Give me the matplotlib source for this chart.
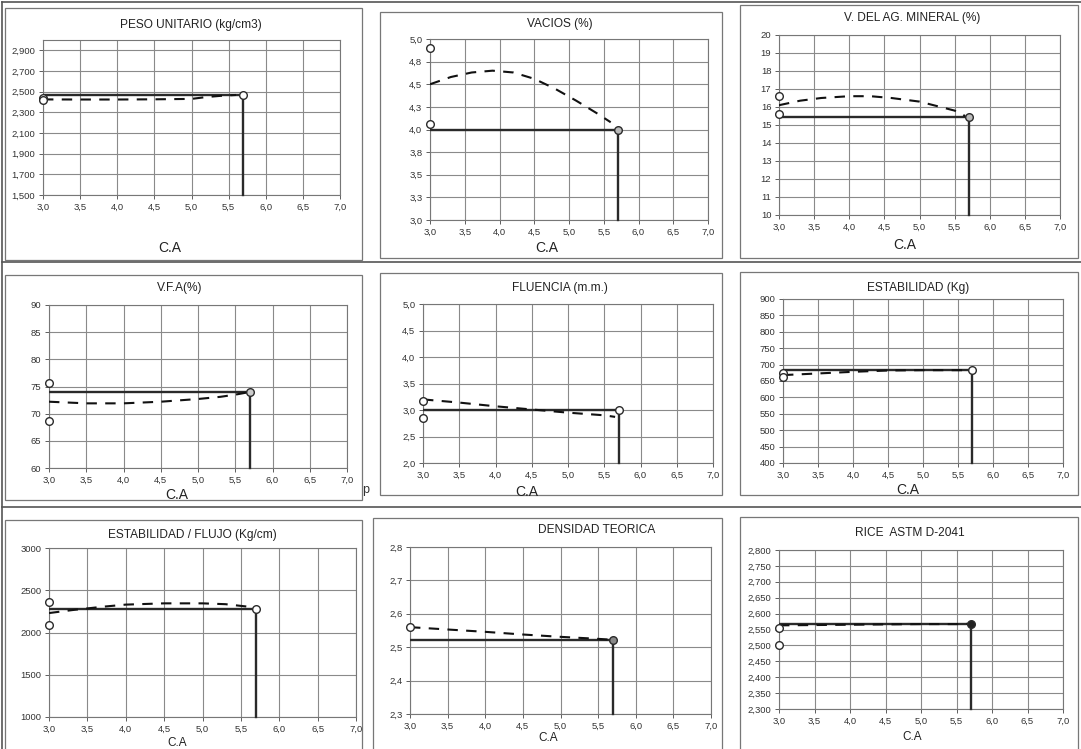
import matplotlib
matplotlib.use("Agg")
import matplotlib.pyplot as plt
from matplotlib.patches import Rectangle
from matplotlib.lines import Line2D

plt.rcParams['font.family'] = ['Liberation Sans', 'DejaVu Sans']

W, H = 1081, 749

# ---------------- data ----------------
ca_ticks = [3.0, 3.5, 4.0, 4.5, 5.0, 5.5, 6.0, 6.5, 7.0]
ca_optimo = 5.7
ca_trial = 3.0

titles = ["PESO UNITARIO (kg/cm3)", "VACIOS (%)", "V. DEL AG. MINERAL (%)",
          "V.F.A(%)", "FLUENCIA (m.m.)", "ESTABILIDAD (Kg)",
          "ESTABILIDAD / FLUJO (Kg/cm)", "DENSIDAD TEORICA", "RICE  ASTM D-2041"]

# y-axis ticks / labels
peso_yticks = [1500, 1700, 1900, 2100, 2300, 2500, 2700, 2900]
peso_ylabels = ["1,500", "1,700", "1,900", "2,100", "2,300", "2,500", "2,700", "2,900"]
vacios_yticks = [3.0, 3.25, 3.5, 3.75, 4.0, 4.25, 4.5, 4.75, 5.0]
vacios_ylabels = ["3,0", "3,3", "3,5", "3,8", "4,0", "4,3", "4,5", "4,8", "5,0"]
vma_yticks = [10, 11, 12, 13, 14, 15, 16, 17, 18, 19, 20]
vfa_yticks = [60, 65, 70, 75, 80, 85, 90]
flu_yticks = [2.0, 2.5, 3.0, 3.5, 4.0, 4.5, 5.0]
est_yticks = [400, 450, 500, 550, 600, 650, 700, 750, 800, 850, 900]
ef_yticks = [1000, 1500, 2000, 2500, 3000]
dens_yticks = [2.3, 2.4, 2.5, 2.6, 2.7, 2.8]
rice_yticks = [2300, 2350, 2400, 2450, 2500, 2550, 2600, 2650, 2700, 2750, 2800]
rice_ylabels = ["2,300", "2,350", "2,400", "2,450", "2,500", "2,550", "2,600",
                "2,650", "2,700", "2,750", "2,800"]

# measured points at C.A = 3.0
peso_pts = [2440, 2415]
vacios_pts = [4.9, 4.06]
vma_pts = [16.6, 15.6]
vfa_pts = [75.6, 68.6]
flu_pts = [3.17, 2.85]
est_pts = [675, 662]
ef_pts = [2357, 2085]
dens_pts = [2.56]
rice_pts = [2555, 2502]

# value at the optimum C.A
peso_opt = 2470
vacios_opt = 4.0
vma_opt = 15.45
vfa_opt = 74.0
flu_opt = 3.0
est_opt = 683
ef_opt = 2280
dens_opt = 2.522
rice_opt = 2568

# dashed trend curves
peso_cx = [3.0, 3.5, 4.0, 4.5, 5.0, 5.2, 5.4, 5.6]
peso_cy = [2425, 2424, 2424, 2426, 2430, 2448, 2460, 2468]
vacios_cx = [3.0, 3.3, 3.6, 3.9, 4.2, 4.5, 4.8, 5.1, 5.4, 5.6]
vacios_cy = [4.5, 4.58, 4.63, 4.65, 4.63, 4.56, 4.45, 4.32, 4.18, 4.08]
vma_cx = [3.0, 3.3, 3.6, 4.0, 4.3, 4.6, 5.0, 5.3, 5.5, 5.65]
vma_cy = [16.1, 16.35, 16.5, 16.6, 16.6, 16.5, 16.3, 16.0, 15.8, 15.5]
vfa_cx = [3.0, 3.5, 4.0, 4.5, 5.0, 5.3, 5.5, 5.7]
vfa_cy = [72.2, 71.9, 71.9, 72.2, 72.7, 73.1, 73.5, 74.0]
flu_cx = [3.0, 3.5, 4.0, 4.5, 5.0, 5.5, 5.65]
flu_cy = [3.2, 3.14, 3.07, 3.01, 2.95, 2.9, 2.87]
est_cx = [3.0, 3.5, 4.0, 4.5, 5.0, 5.5, 5.7]
est_cy = [668, 673, 678, 682, 683, 683, 683]
ef_cx = [3.0, 3.3, 3.7, 4.0, 4.5, 5.0, 5.3, 5.6, 5.7]
ef_cy = [2230, 2265, 2305, 2330, 2345, 2345, 2335, 2305, 2280]
dens_cx = [3.0, 3.5, 4.0, 4.5, 5.0, 5.5, 5.7]
dens_cy = [2.56, 2.553, 2.546, 2.538, 2.531, 2.525, 2.522]
rice_cx = [3.0, 3.5, 4.0, 4.5, 5.0, 5.5, 5.7]
rice_cy = [2563, 2564, 2565, 2566, 2567, 2567, 2568]

# ---------------- layout (pixels) ----------------
panels = [
    dict(box=(5, 8, 362, 260), ax=(43, 40, 340, 195), title=(191, 25), cal=(170, 248),
         ylim=(1500, 3000), yt=peso_yticks, yl=peso_ylabels, pts=peso_pts, opt=peso_opt,
         cx=peso_cx, cy=peso_cy, endface='white', calsize=10),
    dict(box=(380, 12, 722, 258), ax=(430, 39, 708, 220), title=(560, 24), cal=(547, 248),
         ylim=(3.0, 5.0), yt=vacios_yticks, yl=vacios_ylabels, pts=vacios_pts, opt=vacios_opt,
         cx=vacios_cx, cy=vacios_cy, endface='#bbbbbb', calsize=10),
    dict(box=(740, 5, 1078, 258), ax=(779, 35, 1060, 215), title=(912, 18), cal=(905, 245),
         ylim=(10, 20), yt=vma_yticks, yl=[str(v) for v in vma_yticks], pts=vma_pts, opt=vma_opt,
         cx=vma_cx, cy=vma_cy, endface='#bbbbbb', calsize=10),
    dict(box=(5, 275, 362, 500), ax=(49, 305, 347, 468), title=(180, 288), cal=(177, 495),
         ylim=(60, 90), yt=vfa_yticks, yl=[str(v) for v in vfa_yticks], pts=vfa_pts, opt=vfa_opt,
         cx=vfa_cx, cy=vfa_cy, endface='#cccccc', calsize=10),
    dict(box=(380, 273, 722, 495), ax=(423, 304, 713, 463), title=(560, 288), cal=(527, 492),
         ylim=(2.0, 5.0), yt=flu_yticks, yl=[f"{v:.1f}".replace('.', ',') for v in flu_yticks],
         pts=flu_pts, opt=flu_opt, cx=flu_cx, cy=flu_cy, endface='white', calsize=10),
    dict(box=(740, 272, 1078, 495), ax=(783, 299, 1063, 463), title=(918, 288), cal=(908, 490),
         ylim=(400, 900), yt=est_yticks, yl=[str(v) for v in est_yticks], pts=est_pts, opt=est_opt,
         cx=est_cx, cy=est_cy, endface='white', calsize=10),
    dict(box=(5, 520, 362, 770), ax=(49, 548, 356, 717), title=(192, 535), cal=(177, 743),
         ylim=(1000, 3000), yt=ef_yticks, yl=[str(v) for v in ef_yticks], pts=ef_pts, opt=ef_opt,
         cx=ef_cx, cy=ef_cy, endface='white', calsize=8.5),
    dict(box=(373, 518, 722, 770), ax=(410, 547, 711, 714), title=(597, 530), cal=(548, 738),
         ylim=(2.3, 2.8), yt=dens_yticks, yl=[f"{v:.1f}".replace('.', ',') for v in dens_yticks],
         pts=dens_pts, opt=dens_opt, cx=dens_cx, cy=dens_cy, endface='#888888', calsize=8.5),
    dict(box=(740, 517, 1078, 770), ax=(779, 550, 1063, 709), title=(910, 533), cal=(912, 737),
         ylim=(2300, 2800), yt=rice_yticks, yl=rice_ylabels, pts=rice_pts, opt=rice_opt,
         cx=rice_cx, cy=rice_cy, endface='#222222', calsize=8.5),
]

fig = plt.figure(figsize=(W / 100, H / 100), dpi=100)
fig.patch.set_facecolor('white')


def fx(x):
    return x / W


def fy(y):
    return 1 - y / H


# scan frame lines
for (x0, y0, x1, y1) in [(2, 2, 1081, 2), (2, 2, 2, 749), (2, 262, 1081, 262), (2, 507, 1081, 507)]:
    fig.add_artist(Line2D([fx(x0), fx(x1)], [fy(y0), fy(y1)], transform=fig.transFigure,
                          color='#555555', lw=1.2))

ink = '#2a2a2a'
grid_c = '#8a8a8a'

for title, p in zip(titles, panels):
    bx0, by0, bx1, by1 = p['box']
    fig.add_artist(Rectangle((fx(bx0), fy(by1)), fx(bx1 - bx0), (by1 - by0) / H,
                             transform=fig.transFigure, fill=False, edgecolor='#777777', lw=0.9))
    x0, y0, x1, y1 = p['ax']
    ax = fig.add_axes([fx(x0), fy(y1), fx(x1 - x0), (y1 - y0) / H])
    ax.set_xlim(3.0, 7.0)
    ax.set_ylim(*p['ylim'])
    ax.set_xticks(ca_ticks)
    ax.set_xticklabels([f"{v:.1f}".replace('.', ',') for v in ca_ticks])
    ax.set_yticks(p['yt'])
    ax.set_yticklabels(p['yl'])
    ax.tick_params(labelsize=6.8, colors='#444444', length=3, width=0.6, direction='out',
                   labelcolor='#333333', pad=2.5)
    ax.grid(True, color=grid_c, lw=0.8)
    ax.set_axisbelow(True)
    for s in ax.spines.values():
        s.set_color('#777777')
        s.set_linewidth(0.8)
    ymin = p['ylim'][0]
    # optimum lines
    ax.plot([ca_trial, ca_optimo], [p['opt'], p['opt']], color=ink, lw=1.7, solid_capstyle='butt',
            zorder=3, clip_on=False)
    ax.plot([ca_optimo, ca_optimo], [p['opt'], ymin], color=ink, lw=1.7, zorder=3, clip_on=False)
    # dashed curve
    ax.plot(p['cx'], p['cy'], color='#111111', lw=1.5, ls=(0, (5, 4)), zorder=4)
    # measured points
    ax.plot([ca_trial] * len(p['pts']), p['pts'], 'o', ms=5.5, mfc='white', mec=ink, mew=1.0,
            zorder=5, clip_on=False)
    ax.plot([ca_optimo], [p['opt']], 'o', ms=5.5, mfc=p['endface'], mec=ink, mew=1.0,
            zorder=5, clip_on=False)
    # title and x label
    tx, ty = p['title']
    fig.text(fx(tx), fy(ty), title, ha='center', va='center', fontsize=8.6, color='#222222')
    cx, cy = p['cal']
    fig.text(fx(cx), fy(cy), "C.A", ha='center', va='center', fontsize=p['calsize'], color='#222222')

fig.text(fx(366), fy(490), "p", ha='center', va='center', fontsize=9, color='#333333')

fig.savefig("out.png", dpi=100)
